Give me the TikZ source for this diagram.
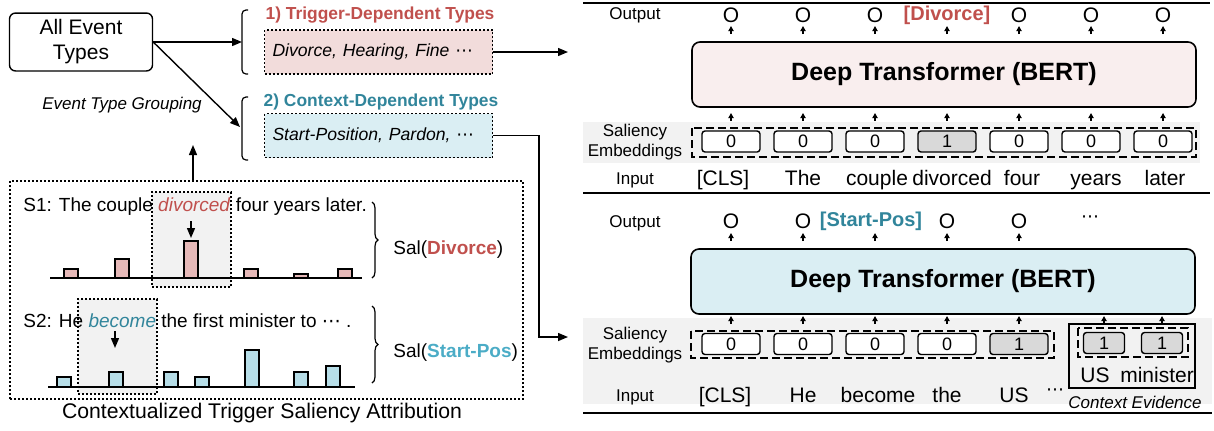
\documentclass[tikz,border=0pt]{standalone}
\usepackage{fontspec}
\setmainfont{Liberation Sans}
\newfontfamily\symfont{DejaVu Sans}
\usepackage{xcolor}
\usetikzlibrary{arrows.meta, positioning, decorations.pathreplacing}

\definecolor{trigred}{RGB}{192,80,77}
\definecolor{ctxteal}{RGB}{49,133,155}
\definecolor{salteal}{RGB}{75,172,198}
\definecolor{pinkfill}{RGB}{242,220,219}
\definecolor{bluefill}{RGB}{218,238,243}
\definecolor{barpink}{RGB}{230,185,184}
\definecolor{barblue}{RGB}{183,222,232}
\definecolor{bertpink}{RGB}{249,238,238}
\definecolor{bandgray}{RGB}{242,242,242}
\definecolor{onegray}{RGB}{217,217,217}

\newcommand{\mdots}{{\symfont\upshape ⋯}}

\begin{document}
\begin{tikzpicture}[x=0.5pt, y=-0.5pt,
    arr/.style={-{Triangle[length=5pt,width=4pt]}, line width=0.7pt},
    tick/.style={-{Triangle[length=2.5pt,width=2.6pt]}, line width=0.6pt},
    lbl/.style={inner sep=0pt, font=\fontsize{8.5}{10}\selectfont, align=center},
    tok/.style={inner sep=0pt, text height=7.6pt, text depth=2.2pt, font=\fontsize{10.5}{12}\selectfont},
    sent/.style={inner sep=0pt, anchor=west, font=\fontsize{9.5}{11}\selectfont},
    typebox/.style={draw, dash pattern=on 1pt off 1pt, line width=0.6pt, text width=106pt, inner xsep=4pt, minimum height=22pt, align=left, font=\itshape\fontsize{8.8}{11}\selectfont},
    hlbox/.style={draw, dash pattern=on 1pt off 1pt, line width=0.6pt, fill=gray!10, minimum width=39.5pt, minimum height=47.5pt},
    bert/.style={draw, rounded corners=4pt, line width=0.8pt, minimum width=252pt, minimum height=32.5pt, font=\bfseries\fontsize{12.5}{14}\selectfont},
    emb/.style={draw, rounded corners=1.5pt, line width=0.7pt, fill=white, minimum width=29pt, minimum height=10.5pt, inner sep=0pt, font=\fontsize{9}{10}\selectfont},
    grp/.style={dash pattern=on 4pt off 2pt, line width=0.8pt},
    bar/.style={draw, line width=0.7pt},
    rule/.style={line width=0.8pt},
    sbrace/.style={decorate, decoration={brace, amplitude=3pt}, line width=0.6pt},
]
\useasboundingbox (0,0) rectangle (1214,430);

% ---------------- left: grouping ----------------
\node[draw, rounded corners=3pt, line width=0.7pt, minimum width=71.5pt, minimum height=27.5pt, align=center, font=\fontsize{10.5}{12.5}\selectfont] (all) at (81,42) {All Event\\Types};

% square brackets
\draw[line width=0.6pt, rounded corners=2pt] (248,10) -- (242,10) -- (242,74) -- (248,74);
\draw[line width=0.6pt, rounded corners=2pt] (248,97) -- (242,97) -- (242,160) -- (248,160);
\coordinate (br1) at (242,42);
\coordinate (br2) at (240,127);

% type groups
\node[inner sep=0pt, text=trigred, font=\bfseries\fontsize{8.7}{10}\selectfont] (ttl1) at (380,15) {1) Trigger-Dependent Types};
\node[typebox, fill=pinkfill] (trig) at (378.5,52) {\mbox{Divorce, Hearing, Fine \mdots}};
\node[inner sep=0pt, text=ctxteal, font=\bfseries\fontsize{8.7}{10}\selectfont] (ttl2) at (381,102) {2) Context-Dependent Types};
\node[typebox, fill=bluefill] (ctx) at (378.5,135.5) {\mbox{Start-Position, Pardon, \mdots}};

\draw[arr] (all.east) -- (br1);
\draw[arr] (all.east) -- (br2);
\node[inner sep=0pt, font=\itshape\fontsize{8.5}{10}\selectfont] (grpng) at (122,105) {Event Type Grouping};

% ---------------- left: saliency attribution ----------------
\node[draw, dash pattern=on 1pt off 1pt, line width=0.6pt, minimum width=256.5pt, minimum height=109pt] (salbox) at (266.5,290) {};
\coordinate (upend) at (193,145);
\draw[arr] (salbox.north -| upend) -- (upend);

% S1
\node[hlbox] (hl1) at (191.5,239.5) {};
\node[sent] (s1) at (23,207) {S1: The couple \textcolor{trigred}{\textit{divorced}} four years later.};
\coordinate (p1a) at (191,221);
\coordinate (p1b) at (191,238);
\draw[arr] (p1a) -- (p1b);
\foreach \x/\h in {71/9, 122/19, 191/37, 251/9, 301/4, 345/9}
    \draw[bar, fill=barpink] (\x-7,278) rectangle (\x+7,278-\h);
\draw[rule] (50,278) -- (362,278);
\draw[sbrace] (372,202) -- (372,278);
\node[sent] (sal1) at (393,250) {Sal(\textcolor{trigred}{\textbf{Divorce}})};

% S2
\node[hlbox] (hl2) at (117.5,346.5) {};
\node[sent] (s2) at (23,321) {S2: He \textcolor{ctxteal}{\textit{become}} the first minister to \mdots\ .};
\coordinate (p2a) at (115,331);
\coordinate (p2b) at (115,348);
\draw[arr] (p2a) -- (p2b);
\foreach \x/\h in {64/10, 116/15, 171/15, 202/10, 252/37, 301/15, 333/21}
    \draw[bar, fill=barblue] (\x-7,387) rectangle (\x+7,387-\h);
\draw[rule] (48,387) -- (355,387);
\draw[sbrace] (372,306) -- (372,383);
\node[sent] (sal2) at (393,353) {Sal(\textcolor{salteal}{\textbf{Start-Pos}})};

\node[inner sep=0pt, font=\fontsize{10.6}{12}\selectfont] (cap) at (262,413) {Contextualized Trigger Saliency Attribution};

% connectors to the taggers
\coordinate (in1) at (568,52);
\coordinate (in2) at (568,337);
\draw[arr] (trig.east) -- (in1);
\draw[arr] (ctx.east) -- ++(46,0) |- (in2);

% ---------------- right: tagger 1 ----------------
\draw[rule] (583,3) -- (1210,3);
\fill[bandgray] (583,122) rectangle (1200,163);
\node[lbl] (out1) at (635,15) {Output};
\node[lbl] (sal1r) at (635,142) {Saliency\\Embeddings};
\node[lbl] (inp1) at (635,180) {Input};

\node[bert, fill=bertpink] (bert1) at (944,74.5) {Deep Transformer (BERT)};
\draw[grp] (692,128) rectangle (1196,157);

\foreach \w/\dx [count=\i from 0] in {[CLS]/-8, The/0, couple/2, divorced/5, four/3, years/5, later/2} {
    \node[tok] (t1-\i) at (731+72*\i+\dx,180) {\w};
    \draw[tick] (731+72*\i,34) -- (731+72*\i,26);
    \draw[tick] (731+72*\i,121) -- (731+72*\i,113);
}
\foreach \i in {0,1,2,4,5,6} {
    \node[tok] (o1-\i) at (731+72*\i,17) {O};
    \node[emb] (e1-\i) at (731+72*\i,141.5) {0};
}
\node[tok, text=trigred, font=\bfseries\fontsize{10}{12}\selectfont] (o1-3) at (947,15) {[Divorce]};
\node[emb, fill=onegray] (e1-3) at (947,141.5) {1};
\draw[rule] (583,193) -- (1210,193);

% ---------------- right: tagger 2 ----------------
\fill[bandgray] (583,318) rectangle (1212,404);
\node[lbl] (out2) at (635,223) {Output};
\node[lbl] (sal2r) at (635,345) {Saliency\\Embeddings};
\node[lbl] (inp2) at (635,397) {Input};

\node[bert, fill=bluefill] (bert2) at (943,281.5) {Deep Transformer (BERT)};
\draw[grp] (691,331) rectangle (1054,358);

\foreach \w/\dx [count=\i from 0] in {[CLS]/-6, He/0, become/3, the/0, US/-5} {
    \node[tok] (t2-\i) at (731+72*\i+\dx,397) {\w};
    \draw[tick] (731+72*\i,241) -- (731+72*\i,233);
    \draw[tick] (731+72*\i,324) -- (731+72*\i,316);
}
\foreach \i in {0,1,3,4}
    \node[tok] (o2-\i) at (731+72*\i,223) {O};
\node[tok, text=ctxteal, font=\bfseries\fontsize{10}{12}\selectfont] (o2-2) at (871,221) {[Start-Pos]};
\node[inner sep=0pt, font=\fontsize{9}{10}\selectfont] (o2-5) at (1090,219) {\mdots};
\foreach \i in {0,1,2,3}
    \node[emb] (e2-\i) at (731+72*\i,344) {0};
\node[emb, fill=onegray] (e2-4) at (1019,344) {1};
\node[inner sep=0pt, font=\fontsize{9}{10}\selectfont] (t2-5) at (1055,392) {\mdots};

% context evidence
\node[draw, line width=0.7pt, minimum width=63pt, minimum height=32pt] (ctxev) at (1132,356) {};
\draw[grp] (1078,328) rectangle (1188,357);
\node[emb, fill=onegray, minimum width=20.5pt] (c1) at (1104,343) {1};
\node[emb, fill=onegray, minimum width=20.5pt] (c2) at (1162,343) {1};
\draw[tick] (1104,324) -- (1104,316);
\draw[tick] (1162,324) -- (1162,316);
\node[tok] (us) at (1095,377) {US};
\node[tok] (mini) at (1157,377) {minister};
\node[inner sep=0pt, font=\itshape\fontsize{8.5}{10}\selectfont] (cev) at (1135,402) {Context Evidence};
\draw[rule] (583,413) -- (1212,413);

\end{tikzpicture}
\end{document}
